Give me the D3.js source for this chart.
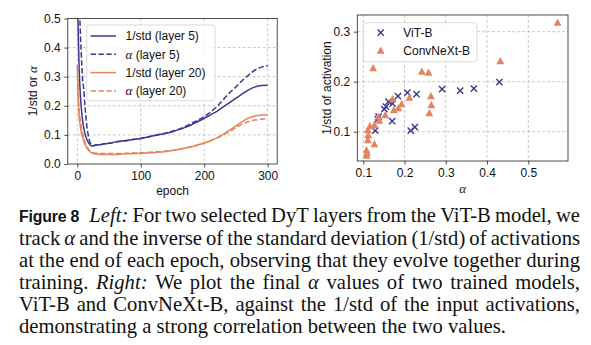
<!DOCTYPE html>
<html><head><meta charset="utf-8">
<script src="https://cdn.jsdelivr.net/npm/d3@7"></script>
<style>
html,body{margin:0;padding:0;background:#fff;}
svg{display:block;}
</style></head><body>
<svg id="fig" width="591" height="345"></svg>
<script>
// ---- Left panel: values tracked at the end of each epoch ----
const epochs   = [0,1,2,3,4,5,6,7,8,10,12,14,16,18,20,22,25,30,35,40,50,60,70,80,90,100,110,120,130,140,150,160,170,180,190,200,210,220,230,240,250,260,270,280,290,300];
const invStd5  = [0.56,0.50,0.40,0.32,0.27,0.23,0.20,0.175,0.155,0.125,0.105,0.090,0.080,0.072,0.066,0.062,0.063,0.065,0.066,0.068,0.071,0.076,0.079,0.082,0.085,0.088,0.092,0.097,0.101,0.106,0.111,0.118,0.126,0.135,0.146,0.157,0.169,0.181,0.196,0.211,0.226,0.241,0.255,0.265,0.270,0.271];
const alpha5   = [0.90,0.80,0.70,0.55,0.50,0.44,0.39,0.34,0.30,0.26,0.20,0.15,0.115,0.090,0.075,0.066,0.063,0.066,0.066,0.069,0.071,0.075,0.078,0.081,0.085,0.088,0.092,0.097,0.102,0.107,0.113,0.120,0.129,0.140,0.151,0.163,0.178,0.197,0.221,0.245,0.265,0.287,0.306,0.323,0.333,0.338];
const invStd20 = [0.34,0.25,0.19,0.16,0.14,0.125,0.112,0.102,0.094,0.080,0.068,0.059,0.052,0.046,0.042,0.039,0.036,0.034,0.033,0.033,0.033,0.033,0.034,0.035,0.036,0.037,0.038,0.039,0.041,0.043,0.046,0.050,0.054,0.059,0.065,0.072,0.080,0.090,0.102,0.116,0.131,0.146,0.158,0.165,0.168,0.169];
const alpha20  = [0.30,0.28,0.22,0.18,0.16,0.145,0.130,0.118,0.107,0.090,0.076,0.065,0.057,0.050,0.045,0.042,0.039,0.037,0.036,0.036,0.036,0.036,0.036,0.037,0.038,0.039,0.040,0.041,0.043,0.045,0.047,0.051,0.055,0.060,0.066,0.073,0.080,0.089,0.100,0.112,0.125,0.137,0.146,0.151,0.154,0.155];
const leftXTicks = [0,100,200,300];
const leftYTicks = [0.0,0.1,0.2,0.3,0.4,0.5];

// ---- Right panel: final alpha vs 1/std of input activations ----
const vitAlpha = [0.129,0.135,0.137,0.151,0.155,0.161,0.171,0.170,0.184,0.207,0.215,0.225,0.229,0.291,0.335,0.368,0.430];
const vitStd   = [0.102,0.125,0.130,0.145,0.150,0.160,0.156,0.121,0.171,0.178,0.102,0.109,0.175,0.185,0.182,0.186,0.199];
const cnxAlpha = [0.108,0.109,0.108,0.111,0.112,0.111,0.116,0.127,0.127,0.124,0.139,0.136,0.153,0.174,0.185,0.193,0.171,0.212,0.242,0.258,0.260,0.265,0.264,0.432,0.571];
const cnxStd   = [0.052,0.057,0.063,0.083,0.093,0.103,0.111,0.113,0.075,0.227,0.122,0.130,0.133,0.143,0.147,0.155,0.165,0.168,0.220,0.218,0.137,0.153,0.171,0.241,0.318];
const rightXTicks = [0.1,0.2,0.3,0.4,0.5];
const rightYTicks = [0.1,0.2,0.3];

const PURPLE = "#3b3791", ORANGE = "#e2855f";
const SANS  = "'Liberation Sans', Arial, Helvetica, sans-serif";
const SERIF = "'Liberation Serif', 'Times New Roman', serif";
const FS = 12;

const svg = d3.select("#fig");
const fmt1 = d3.format(".1f");

function styleAxis(g){
  g.select(".domain").remove();
  g.selectAll(".tick line").attr("stroke","#222").attr("stroke-width",0.8);
  g.selectAll(".tick text").attr("fill","#111").style("font-family",SANS).style("font-size",FS+"px");
}
// dashed grid: vertical lines at xs spanning ySpan, horizontal lines at ys spanning xSpan
function grid(g, xs, ys, x, y, ySpan, xSpan){
  g.selectAll("line.gx").data(xs).join("line").attr("class","gx")
    .attr("x1",d=>x(d)).attr("x2",d=>x(d)).attr("y1",ySpan[0]).attr("y2",ySpan[1]);
  g.selectAll("line.gy").data(ys).join("line").attr("class","gy")
    .attr("y1",d=>y(d)).attr("y2",d=>y(d)).attr("x1",xSpan[0]).attr("x2",xSpan[1]);
  g.selectAll("line").attr("stroke","#b8b8b8").attr("stroke-width",0.8).attr("stroke-dasharray","2.8,2.2");
}

// ================= Left panel =================
const L = {x0:67.8, x1:277.2, y0:18.5, y1:164};
const xL = d3.scaleLinear().domain([-15,315]).range([L.x0,L.x1]);
const yL = d3.scaleLinear().domain([0,0.5]).range([L.y1,L.y0]);

grid(svg.append("g"), leftXTicks, leftYTicks.filter(v=>v>0 && v<0.5), xL, yL, [L.y0,L.y1], [L.x0,L.x1]);

svg.append("clipPath").attr("id","clipL").append("rect")
  .attr("x",L.x0).attr("y",L.y0).attr("width",L.x1-L.x0).attr("height",L.y1-L.y0);

const lineL = d3.line().x(d=>xL(d[0])).y(d=>yL(d[1])).curve(d3.curveMonotoneX);
const seriesL = [
  {vals:invStd5,  color:PURPLE, dash:null},
  {vals:alpha5,   color:PURPLE, dash:"5.5,2.4"},
  {vals:invStd20, color:ORANGE, dash:null},
  {vals:alpha20,  color:ORANGE, dash:"5.5,2.4"}
];
const gLines = svg.append("g").attr("clip-path","url(#clipL)");
seriesL.forEach(s=>{
  gLines.append("path").datum(epochs.map((e,i)=>[e,s.vals[i]]))
    .attr("d",lineL).attr("fill","none").attr("stroke",s.color).attr("stroke-width",1.5)
    .attr("stroke-dasharray",s.dash);
});

svg.append("g").attr("transform",`translate(0,${L.y1})`)
  .call(d3.axisBottom(xL).tickValues(leftXTicks).tickSize(3.5).tickPadding(3.5)).call(styleAxis);
svg.append("g").attr("transform",`translate(${L.x0},0)`)
  .call(d3.axisLeft(yL).tickValues(leftYTicks).tickFormat(fmt1).tickSize(3.5).tickPadding(3.5)).call(styleAxis);
svg.append("rect").attr("x",L.x0).attr("y",L.y0).attr("width",L.x1-L.x0).attr("height",L.y1-L.y0)
  .attr("fill","none").attr("stroke","#222").attr("stroke-width",0.8);

svg.append("text").attr("x",(L.x0+L.x1)/2).attr("y",194.5).attr("text-anchor","middle")
  .style("font-family",SANS).style("font-size",FS+"px").attr("fill","#111").text("epoch");
const ylabL = svg.append("text").attr("transform",`translate(36.5,${(L.y0+L.y1)/2}) rotate(-90)`)
  .attr("text-anchor","middle").style("font-family",SANS).style("font-size",FS+"px").attr("fill","#111");
ylabL.append("tspan").text("1/std or ");
ylabL.append("tspan").style("font-family",SERIF).style("font-style","italic").style("font-size","13px").text("α");

// legend
const legL = svg.append("g");
legL.append("rect").attr("x",86.7).attr("y",25).attr("width",128.3).attr("height",75.7).attr("rx",3)
  .attr("fill","#fff").attr("fill-opacity",0.8).attr("stroke","#d0d0d0").attr("stroke-width",0.8);
const legLabels = [["","1/std (layer 5)"],["α"," (layer 5)"],["","1/std (layer 20)"],["α"," (layer 20)"]];
seriesL.forEach((s,i)=>{
  const yy = 36 + i*18.3;
  legL.append("line").attr("x1",90.5).attr("x2",116).attr("y1",yy).attr("y2",yy)
    .attr("stroke",s.color).attr("stroke-width",1.5).attr("stroke-dasharray",s.dash);
  const t = legL.append("text").attr("x",125.5).attr("y",yy).attr("dy","0.35em")
    .style("font-family",SANS).style("font-size",FS+"px").attr("fill","#111");
  if(legLabels[i][0]) t.append("tspan").style("font-family",SERIF).style("font-style","italic").style("font-size","13px").text(legLabels[i][0]);
  t.append("tspan").text(legLabels[i][1]);
});

// ================= Right panel =================
const R = {x0:357.3, x1:568, y0:15, y1:161};
const xR = d3.scaleLinear().domain([0.0855,0.5962]).range([R.x0,R.x1]);
const yR = d3.scaleLinear().domain([0.0414,0.3334]).range([R.y1,R.y0]);

grid(svg.append("g"), rightXTicks, rightYTicks, xR, yR, [R.y0,R.y1], [R.x0,R.x1]);

function crossPath(cx,cy,r){return `M${cx-r},${cy-r}L${cx+r},${cy+r}M${cx-r},${cy+r}L${cx+r},${cy-r}`;}
function triPath(cx,cy,r){return `M${cx},${cy-r*1.05}L${cx+r},${cy+r*0.75}L${cx-r},${cy+r*0.75}Z`;}

svg.append("g").selectAll("path").data(vitAlpha.map((a,i)=>[a,vitStd[i]])).join("path")
  .attr("d",d=>crossPath(xR(d[0]),yR(d[1]),3.1)).attr("stroke",PURPLE).attr("stroke-width",1.4).attr("fill","none");
svg.append("g").selectAll("path").data(cnxAlpha.map((a,i)=>[a,cnxStd[i]])).join("path")
  .attr("d",d=>triPath(xR(d[0]),yR(d[1]),3.9)).attr("fill",ORANGE);

svg.append("g").attr("transform",`translate(0,${R.y1})`)
  .call(d3.axisBottom(xR).tickValues(rightXTicks).tickFormat(fmt1).tickSize(3.5).tickPadding(3.5)).call(styleAxis);
svg.append("g").attr("transform",`translate(${R.x0},0)`)
  .call(d3.axisLeft(yR).tickValues(rightYTicks).tickFormat(fmt1).tickSize(3.5).tickPadding(3.5)).call(styleAxis);
svg.append("rect").attr("x",R.x0).attr("y",R.y0).attr("width",R.x1-R.x0).attr("height",R.y1-R.y0)
  .attr("fill","none").attr("stroke","#222").attr("stroke-width",0.8);

svg.append("text").attr("x",(R.x0+R.x1)/2).attr("y",193).attr("text-anchor","middle")
  .style("font-family",SERIF).style("font-style","italic").style("font-size","13px").attr("fill","#111").text("α");
svg.append("text").attr("transform",`translate(330.7,${(R.y0+R.y1)/2}) rotate(-90)`)
  .attr("text-anchor","middle").style("font-family",SANS).style("font-size",FS+"px").attr("fill","#111")
  .text("1/std of activation");

const legR = svg.append("g");
legR.append("rect").attr("x",363.3).attr("y",22.7).attr("width",113.7).attr("height",39).attr("rx",3)
  .attr("fill","#fff").attr("fill-opacity",0.8).attr("stroke","#d0d0d0").attr("stroke-width",0.8);
legR.append("path").attr("d",crossPath(380.7,32.7,3.1)).attr("stroke",PURPLE).attr("stroke-width",1.4);
legR.append("path").attr("d",triPath(380.7,50.7,3.9)).attr("fill",ORANGE);
[["ViT-B",32.7],["ConvNeXt-B",50.7]].forEach(([t,yy])=>{
  legR.append("text").attr("x",403.3).attr("y",yy).attr("dy","0.35em")
    .style("font-family",SANS).style("font-size",FS+"px").attr("fill","#111").text(t);
});

// ================= Caption (justified paragraph) =================
const capLeft = 19, capRight = 580, capBase = 222.3, capLead = 22.2, capLastWidth = 487, labelWidth = 60;
const capLines = [
  [["b","Figure 8"],["i","Left:"],["r","For two selected DyT layers from the ViT-B model, we"]],
  [["r","track"],["m","α"],["r","and the inverse of the standard deviation (1/std) of activations"]],
  [["r","at the end of each epoch, observing that they evolve together during"]],
  [["r","training."],["i","Right:"],["r","We plot the final"],["m","α"],["r","values of two trained models,"]],
  [["r","ViT-B and ConvNeXt-B, against the 1/std of the input activations,"]],
  [["r","demonstrating a strong correlation between the two values."]]
];
function tokens(line){
  const out=[];
  line.forEach(([st,str])=>{
    if(st==="b") out.push({st,t:str});
    else str.split(" ").forEach(w=>out.push({st,t:w}));
  });
  return out;
}
const capG = svg.append("g");
let boldSize = 14;
function styleTok(sel, st, size){
  if(st==="b") sel.style("font-family",SANS).style("font-weight","bold").style("font-size",boldSize+"px").style("letter-spacing","-0.2px");
  else sel.style("font-family",SERIF).style("font-size",size+"px").style("font-style",(st==="i"||st==="m")?"italic":"normal");
}
function measure(t, st, size){
  const el = capG.append("text").text(t); styleTok(el, st, size);
  const w = el.node().getComputedTextLength(); el.remove(); return w;
}
// serif size chosen so the unjustified last line keeps its natural length
const lastToks = tokens(capLines[5]);
const sp16 = measure("a a","r",16) - 2*measure("a","r",16);
const natAt16 = d3.sum(lastToks, k=>measure(k.t,k.st,16)) + (lastToks.length-1)*sp16;
const capSize = 16*capLastWidth/natAt16;
const spaceW = measure("a a","r",capSize) - 2*measure("a","r",capSize);
boldSize = boldSize*labelWidth/measure("Figure 8","b",capSize);

capLines.forEach((line,li)=>{
  const toks = tokens(line);
  const widths = toks.map(k=>measure(k.t,k.st,capSize));
  const extra = toks.map((k,i)=> (i>0 && toks[i-1].st==="b") ? 6 : 0);
  const last = li===capLines.length-1;
  const gap = last ? spaceW : (capRight-capLeft-d3.sum(widths)-d3.sum(extra))/(toks.length-1);
  let x = capLeft;
  const y = capBase + li*capLead;
  toks.forEach((k,i)=>{
    x += extra[i];
    const el = capG.append("text").attr("x",x).attr("y",y).attr("fill","#111").text(k.t);
    styleTok(el,k.st,capSize);
    x += widths[i] + gap;
  });
});
</script>
</body></html>
